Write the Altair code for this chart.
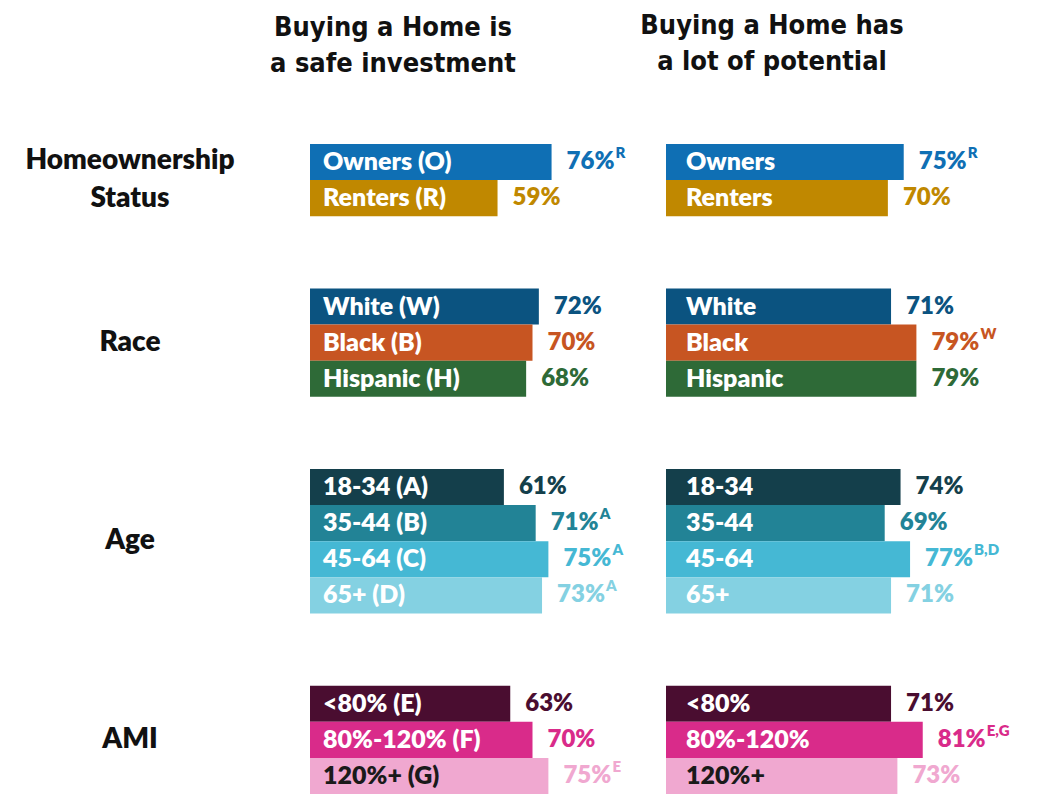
import altair as alt
import pandas as pd

# ---------------- data ----------------
groups = ["Homeownership\nStatus", "Race", "Age", "AMI"]
group_sizes = [2, 3, 4, 3]

keys = ["Owners", "Renters", "White", "Black", "Hispanic",
        "18-34", "35-44", "45-64", "65+", "<80%", "80%-120%", "120%+"]
labels_left = ["Owners (O)", "Renters (R)", "White (W)", "Black (B)", "Hispanic (H)",
               "18-34 (A)", "35-44 (B)", "45-64 (C)", "65+ (D)",
               "<80% (E)", "80%-120% (F)", "120%+ (G)"]
labels_right = keys

safe_values = [76, 59, 72, 70, 68, 61, 71, 75, 73, 63, 70, 75]
safe_sig = ["R", "", "", "", "", "", "A", "A", "A", "", "", "E"]
potential_values = [75, 70, 71, 79, 79, 74, 69, 77, 71, 71, 81, 73]
potential_sig = ["R", "", "", "W", "", "", "", "B,D", "", "", "E,G", ""]

colors = ["#0f6fb4", "#c08800", "#0b5380", "#c75522", "#2e6a37",
          "#143f4b", "#228396", "#45b8d4", "#84d1e2",
          "#4a0d30", "#d92b8a", "#f0a8d0"]

panel_titles = ["Buying a Home is\na safe investment", "Buying a Home has\na lot of potential"]

# ------------- layout of rows (order, with two empty rows between groups) -------------
pos = []
i = 0
for n in group_sizes:
    for _ in range(n):
        pos.append(i)
        i += 1
    i += 2
n_rows = i - 2

group_centers = []
k = 0
for n in group_sizes:
    group_centers.append((pos[k] + pos[k + n - 1] + 1) / 2)
    k += n

FONT = "Lato, 'Source Sans Pro', 'Open Sans', sans-serif"
TFONT = "'DejaVu Sans Condensed', 'Liberation Sans Narrow', Lato, sans-serif"
W8 = 800

H = 786
yscale = alt.Scale(domain=[0, n_rows], range=[136, H], nice=False, zero=False)
xscale = alt.Scale(domain=[0, 112], nice=False, zero=True)
color_scale = alt.Scale(domain=keys, range=colors)


def panel(labels, values, sig, title, width, label_dx, title_x, title_y):
    df = pd.DataFrame({
        "key": keys, "label": labels, "value": values, "sig": sig,
        "pos": pos, "pos_end": [p + 1 for p in pos], "mid": [p + 0.5 for p in pos],
        "vtext": [f"{v}%" for v in values],
    })
    base = alt.Chart(df)
    y_mid = alt.Y("mid:Q", scale=yscale, axis=None)
    bars = base.mark_bar(cornerRadius=0).encode(
        x=alt.X("value:Q", scale=xscale, axis=None),
        x2=alt.datum(0),
        y=alt.Y("pos:Q", scale=yscale, axis=None),
        y2="pos_end:Q",
        color=alt.Color("key:N", scale=color_scale, legend=None),
    )
    inner = base.mark_text(align="left", baseline="middle", font=FONT, fontSize=25,
                           fontWeight=W8).encode(
        x=alt.value(label_dx),
        y=y_mid,
        text="label:N",
        color=alt.condition(alt.datum.key == "120%+", alt.value("#1a1a1a"), alt.value("white")),
    )
    vals = base.mark_text(align="left", baseline="middle", dx=15, font=FONT, fontSize=24,
                          fontWeight=W8).encode(
        x=alt.X("value:Q", scale=xscale, axis=None),
        y=y_mid,
        text="vtext:N",
        color=alt.Color("key:N", scale=color_scale, legend=None),
    )
    sups = base.mark_text(align="left", baseline="middle", dx=64, dy=-9, font=FONT, fontSize=15,
                          fontWeight=W8).encode(
        x=alt.X("value:Q", scale=xscale, axis=None),
        y=y_mid,
        text="sig:N",
        color=alt.Color("key:N", scale=color_scale, legend=None),
    )
    tdf = pd.DataFrame({"title": [title]})
    ttl = alt.Chart(tdf).mark_text(align="center", baseline="alphabetic", font=TFONT,
                                   fontSize=27, fontWeight="bold", lineBreak="\n",
                                   lineHeight=36, color="#111111").encode(
        x=alt.value(title_x), y=alt.value(title_y), text="title:N")
    return alt.layer(bars, inner, vals, sups, ttl).properties(width=width, height=H)


left = panel(labels_left, safe_values, safe_sig, panel_titles[0], 356, 13, 83, 28)
right = panel(labels_right, potential_values, potential_sig, panel_titles[1], 355, 20, 106, 26)

gdf = pd.DataFrame({"group": groups, "center": group_centers,
                    "nlines": [g.count("\n") + 1 for g in groups]})
gbase = alt.Chart(gdf)
genc = dict(x=alt.value(122), y=alt.Y("center:Q", scale=yscale, axis=None), text="group:N")
gstyle = dict(align="center", baseline="middle", font=FONT, fontSize=28, fontWeight=W8,
              lineBreak="\n", lineHeight=38, color="#111111")
g1 = gbase.mark_text(**gstyle).encode(**genc).transform_filter(alt.datum.nlines == 1)
g2 = gbase.mark_text(dy=-19, **gstyle).encode(**genc).transform_filter(alt.datum.nlines == 2)
group_col = alt.layer(g1, g2).properties(width=302, height=H)

chart = alt.hconcat(group_col, left, right, spacing=0, bounds="flush").configure_view(
    stroke=None).resolve_scale(color="shared").properties(padding=0)

chart.save("out.html", embed_options={"renderer": "svg", "actions": False})
